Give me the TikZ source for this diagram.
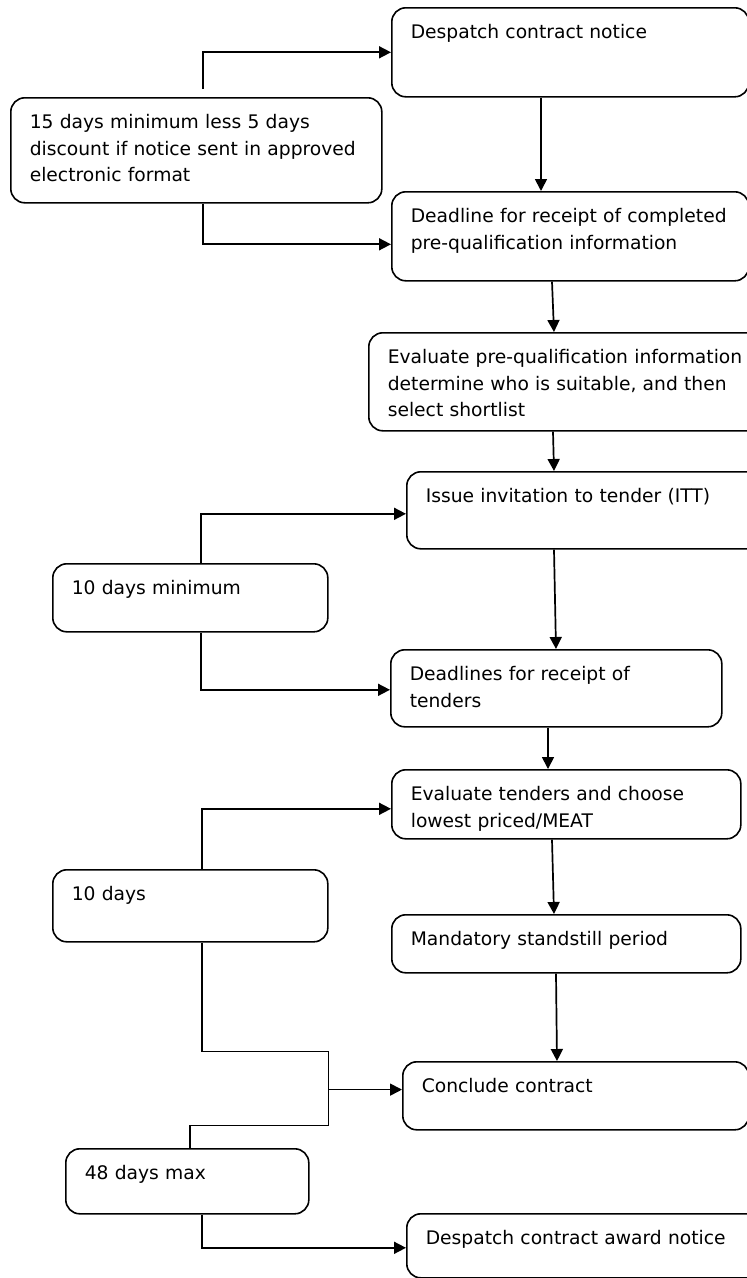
\documentclass[tikz,border=0pt]{standalone}
\usepackage{fontspec}
\setmainfont{DejaVu Sans}
\usetikzlibrary{arrows.meta,calc}
\begin{document}
\begin{tikzpicture}[x=1pt,y=-1pt,
  stepbox/.style={draw,line width=1.6pt,rounded corners=14pt,anchor=north west,align=left,
     inner xsep=19pt,inner ysep=0pt,text height=31pt,
     font=\fontsize{18.7}{26.5}\selectfont},
  link/.style={line width=1.7pt},
  arr/.style={link,-{Triangle[length=12pt,width=12pt]}}]
\useasboundingbox (0,0) rectangle (747,1278);
\fill[white] (0,0) rectangle (747,1278);

\node[stepbox,text width=319pt,text depth=58pt] (B1) at (391,7) {Despatch contract notice};
\node[stepbox,text width=333pt,text depth=74pt] (L1) at (10,97) {\mbox{15 days minimum less 5 days}\\\mbox{discount if notice sent in approved}\\\mbox{electronic format}};
\node[stepbox,text width=319pt,text depth=58pt] (B2) at (391,191) {\mbox{Deadline for receipt of completed}\\\mbox{pre-qualification information}};
\node[stepbox,text width=369pt,text depth=67pt] (B3) at (368,332) {\mbox{Evaluate pre-qualification information}\\\mbox{determine who is suitable, and then}\\\mbox{select shortlist}};
\node[stepbox,text width=331pt,text depth=46pt] (B4) at (406,471) {Issue invitation to tender (ITT)};
\node[stepbox,text width=237pt,text depth=37pt] (L2) at (52,563) {10 days minimum};
\node[stepbox,text width=293pt,text depth=46pt] (B5) at (390,649) {\mbox{Deadlines for receipt of}\\\mbox{tenders}};
\node[stepbox,text width=311pt,text depth=38pt] (B6) at (391,769) {\mbox{Evaluate tenders and choose}\\\mbox{lowest priced/MEAT}};
\node[stepbox,text width=237pt,text depth=41pt] (L3) at (52,869) {10 days};
\node[stepbox,text width=311pt,text depth=27pt] (B7) at (391,914) {Mandatory standstill period};
\node[stepbox,text width=308pt,text depth=37pt] (B8) at (402,1061) {Conclude contract};
\node[stepbox,text width=205pt,text depth=34pt] (L4) at (65,1148) {48 days max};
\node[stepbox,text width=331pt,text depth=33pt] (B9) at (406,1213) {Despatch contract award notice};

\draw[arr] ($(L1.north west)+(193,-8)$) |- (B1.west);
\draw[arr] ($(L1.south west)+(193,0)$) |- ($(B2.west)+(0,8)$);
\draw[arr] ($(B1.south west)+(150,0)$) -- ($(B2.north west)+(150,0)$);
\draw[arr] ($(B2.south west)+(161,0)$) -- ($(B3.north west)+(186,0)$);
\draw[arr] ($(B3.south west)+(185,0)$) -- ($(B4.north west)+(148,0)$);
\draw[arr] ($(L2.north west)+(149,0)$) |- ($(B4.west)+(0,3.5)$);
\draw[arr] ($(L2.south west)+(149,0)$) |- ($(B5.west)+(0,1.5)$);
\draw[arr] ($(B4.south west)+(148,0)$) -- ($(B5.north west)+(166,0)$);
\draw[arr] ($(B5.south west)+(158,0)$) -- ($(B6.north west)+(157,0)$);
\draw[arr] ($(L3.north west)+(150,0)$) |- ($(B6.west)+(0,4.5)$);
\draw[arr] ($(B6.south west)+(161,0)$) -- ($(B7.north west)+(163,0)$);
\draw[arr] ($(B7.south west)+(165,0)$) -- ($(B8.north west)+(155,0)$);
\coordinate (ja) at ($(L3.south east)+(0,109)$);
\coordinate (jb) at ($(L3.south east)+(0,183)$);
\coordinate (jm) at ($(L3.south east)+(0,147)$);
\draw[link] ($(L3.south west)+(150,0)$) |- (ja) -- (jb) -| ($(L4.north west)+(125,0)$);
\draw[arr] (jm) -- (B8.west |- jm);
\draw[arr] ($(L4.south west)+(137,0)$) |- ($(B9.west)+(0,2)$);
\end{tikzpicture}
\end{document}
